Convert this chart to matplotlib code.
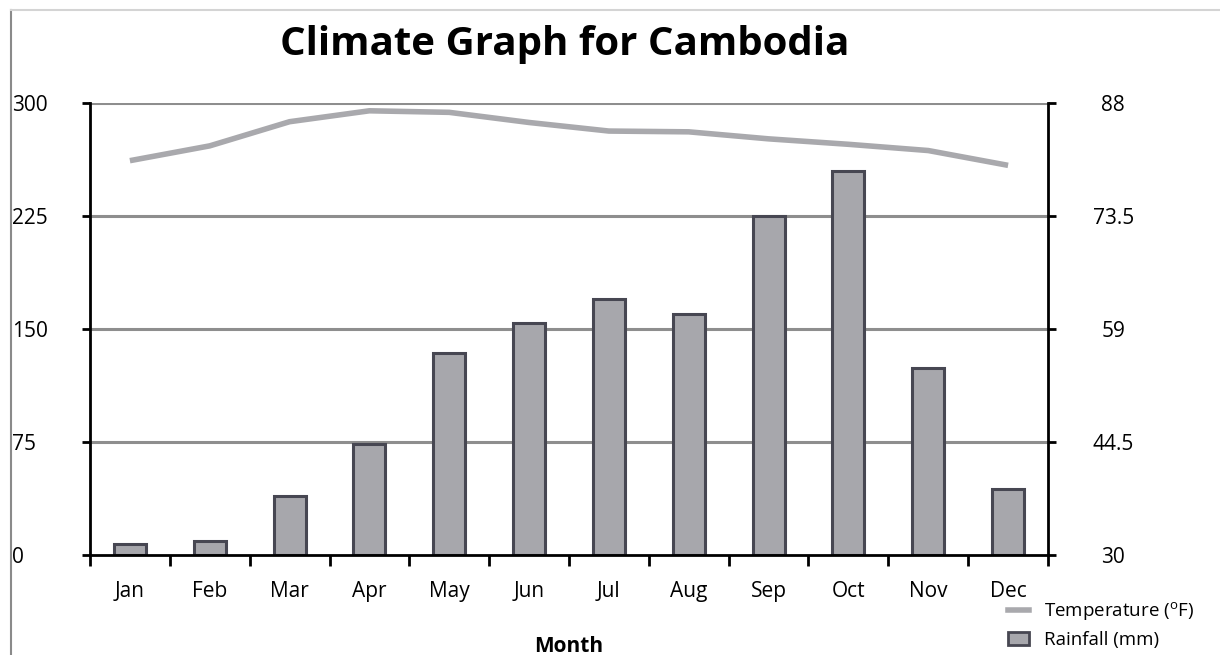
import matplotlib
matplotlib.use("Agg")
import matplotlib.pyplot as plt
from matplotlib.lines import Line2D
from matplotlib.patches import Patch
import numpy as np

months = ["Jan", "Feb", "Mar", "Apr", "May", "Jun", "Jul", "Aug", "Sep", "Oct", "Nov", "Dec"]
rainfall_mm = [7, 9, 39, 74, 134, 154, 170, 160, 225, 255, 124, 44]
temperature_f = [80.6, 82.5, 85.6, 87.0, 86.8, 85.5, 84.4, 84.3, 83.4, 82.7, 81.9, 80.0]
left_ticks = [0, 75, 150, 225, 300]
right_ticks = [30, 44.5, 59, 73.5, 88]
right_labels = ["30", "44.5", "59", "73.5", "88"]

plt.rcParams['font.family'] = ['Open Sans', 'DejaVu Sans']

W, H = 1220, 655
fig = plt.figure(figsize=(W / 100, H / 100), dpi=100)
L, R, T, B = 90, 1048, 103, 555
ax = fig.add_axes([L / W, 1 - B / H, (R - L) / W, (B - T) / H])
ax2 = ax.twinx()

x = np.arange(len(months))
bar_color = "#a7a7ac"
edge_color = "#474752"
line_color = "#a9a9ad"
FS = 15

# gridlines
for v in left_ticks[1:]:
    ax.axhline(v, color="#8e8e8e", lw=2.2, zorder=1)

ax.bar(x, rainfall_mm, width=0.4, color=bar_color, edgecolor=edge_color, linewidth=2.2, zorder=2)
ax.set_xlim(-0.5, len(months) - 0.5)
ax.set_ylim(0, 300)
ax2.set_ylim(30, 88)

ax2.plot(x, temperature_f, color=line_color, lw=4, solid_capstyle="butt", zorder=3)

for a in (ax, ax2):
    a.spines['top'].set_visible(False)
ax.spines['left'].set_linewidth(2)
ax.spines['bottom'].set_linewidth(2)
ax.spines['right'].set_visible(False)
ax2.spines['left'].set_visible(False)
ax2.spines['bottom'].set_visible(False)
ax2.spines['right'].set_linewidth(2)

# left ticks
ax.set_yticks(left_ticks)
ax.set_yticklabels([str(v) for v in left_ticks])
ax.tick_params(axis='y', direction='out', length=6, width=2, labelsize=FS, pad=50)
for lab in ax.get_yticklabels():
    lab.set_horizontalalignment('left')

# right ticks
ax2.set_yticks(right_ticks)
ax2.set_yticklabels(right_labels)
ax2.tick_params(axis='y', direction='out', length=6, width=2, labelsize=FS, pad=41)
for lab in ax2.get_yticklabels():
    lab.set_horizontalalignment('center')

# x ticks at category boundaries, labels at centres
ax.set_xticks(np.arange(-0.5, len(months), 1.0))
ax.set_xticklabels([])
ax.set_xticks(x, minor=True)
ax.set_xticklabels(months, minor=True)
ax.tick_params(axis='x', which='major', direction='out', length=8, width=2)
ax.tick_params(axis='x', which='minor', length=0, labelsize=FS, pad=19)

ax.set_xlabel("Month", fontsize=FS, fontweight='bold', labelpad=24)

fig.text(565 / W, 1 - 45 / H, "Climate Graph for Cambodia", ha='center', va='center',
         fontsize=29, fontweight='bold')

# frame lines
fig.add_artist(Line2D([11 / W, 11 / W], [0, 1 - 10 / H], color="#8a8a8a", lw=1.5, transform=fig.transFigure))
fig.add_artist(Line2D([11 / W, 1], [1 - 10 / H, 1 - 10 / H], color="#d4d4d4", lw=1.5, transform=fig.transFigure))

handles = [Line2D([0], [0], color=line_color, lw=4),
           Patch(facecolor=bar_color, edgecolor=edge_color, linewidth=2)]
labels = ["Temperature ($^\\mathregular{o}$F)", "Rainfall (mm)"]
fig.legend(handles, labels, loc='upper left', bbox_to_anchor=(1008 / W, 1 - 600 / H),
           frameon=False, fontsize=13.5, handlelength=1.1, handletextpad=0.8,
           labelspacing=0.45, borderaxespad=0, borderpad=0)

fig.savefig("out.png", dpi=100)
